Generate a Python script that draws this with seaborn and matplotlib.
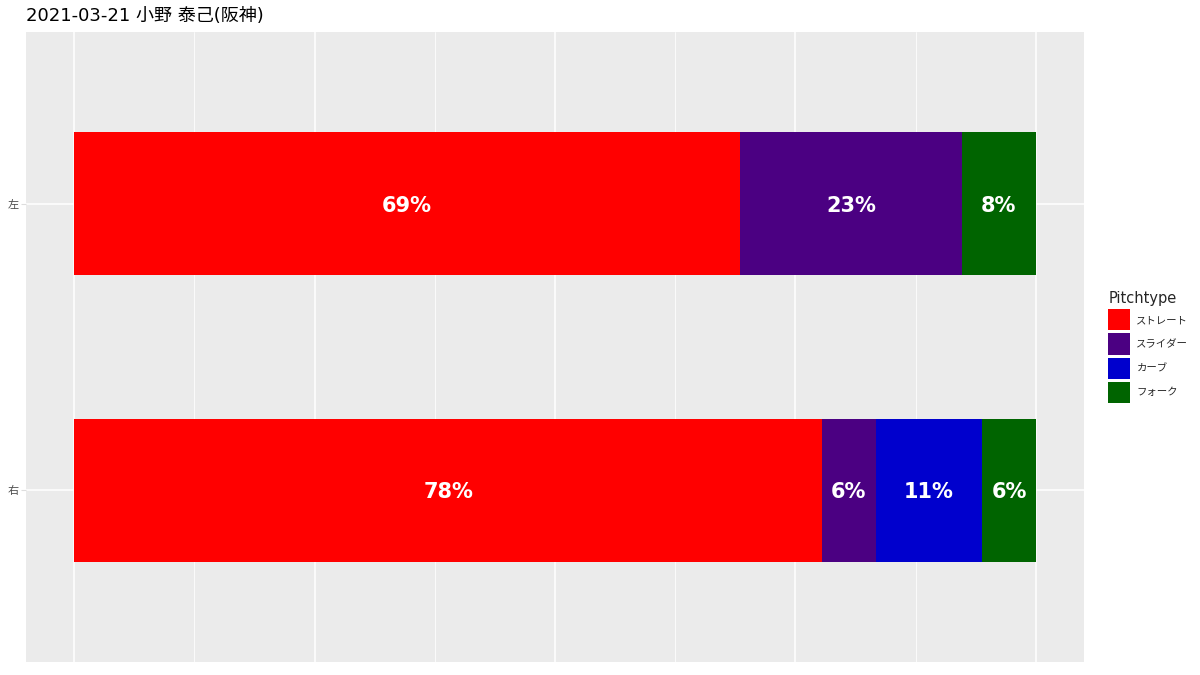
import matplotlib
matplotlib.use("Agg")
import matplotlib.pyplot as plt
from matplotlib.patches import Patch
from matplotlib.ticker import MultipleLocator
import seaborn as sns
import pandas as pd
import numpy as np

title = "2021-03-21 小野 泰己(阪神)"
sides = ["左", "右"]
pitch_types = ["ストレート", "スライダー", "カーブ", "フォーク"]
colors = ["#FF0000", "#4B0082", "#0000CD", "#006400"]
# pitch counts per batter side
counts_left = [9, 3, 0, 1]
counts_right = [14, 1, 2, 1]

sns.set_theme(style="darkgrid")
plt.rcParams["font.family"] = ["DejaVu Sans", "Noto Sans CJK JP"]

rows = []
for side, cnts in zip(sides, [counts_left, counts_right]):
    cnts = np.array(cnts, dtype=float)
    props = cnts / cnts.sum()
    cum = np.cumsum(props)
    for p, v, c in zip(pitch_types, props, cum):
        rows.append({"side": side, "pitch": p, "prop": v, "cum": c})
df = pd.DataFrame(rows)

fig = plt.figure(figsize=(12, 6.75), dpi=100)
ax = fig.add_axes([26 / 1200, 13 / 675, (1084 - 26) / 1200, (662 - 32) / 675])
ax.set_facecolor("#EBEBEB")

pal = dict(zip(pitch_types, colors))
sns.barplot(data=df, y="side", x="cum", hue="pitch", order=sides,
            hue_order=pitch_types[::-1], palette=pal, dodge=False,
            width=0.5, linewidth=0, saturation=1, orient="h", ax=ax,
            legend=False, errorbar=None)

for _, r in df.iterrows():
    if r["prop"] <= 0:
        continue
    yi = sides.index(r["side"])
    ax.text(r["cum"] - r["prop"] / 2, yi, f"{round(r['prop'] * 100):.0f}%",
            ha="center", va="center_baseline", color="white", fontsize=15,
            fontweight="bold")

ax.set_xlim(-0.05, 1.05)
ax.set_ylim(1.6, -0.6)
ax.xaxis.set_major_locator(MultipleLocator(0.25))
ax.xaxis.set_minor_locator(MultipleLocator(0.125))
ax.grid(which="major", color="white", linewidth=1.1)
ax.grid(which="minor", axis="x", color="white", linewidth=0.55)
ax.set_axisbelow(True)
ax.tick_params(axis="x", which="both", bottom=False, labelbottom=False)
ax.tick_params(axis="y", left=True, length=3.5, width=0.8, color="#DDDDDD",
               labelsize=8, labelcolor="#4D4D4D", pad=2)
ax.set_xlabel("")
ax.set_ylabel("")
for s in ax.spines.values():
    s.set_visible(False)

fig.text(26 / 1200, 1 - 16 / 675, title, fontsize=13, ha="left", va="center",
         color="black")

handles = [Patch(facecolor=c, edgecolor="none") for c in colors]
leg = fig.legend(handles, pitch_types, title="Pitchtype", loc="center left",
                 bbox_to_anchor=(1101 / 1200, 1 - 347 / 675), frameon=False,
                 fontsize=7.5, title_fontsize=10.5, handlelength=2.1,
                 handleheight=2.73, labelspacing=0.29, handletextpad=0.6,
                 borderpad=0.2)
leg._legend_box.align = "left"

fig.savefig("out.png", dpi=100)
